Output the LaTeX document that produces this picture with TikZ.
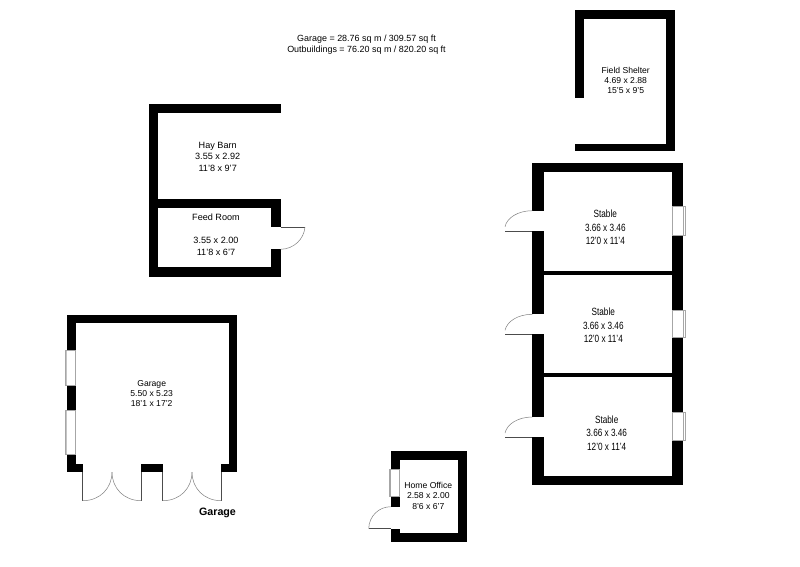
\documentclass[tikz,border=0pt]{standalone}
\usepackage{fontspec}
\setmainfont{Liberation Sans}
\begin{document}
\begin{tikzpicture}[x=1pt,y=-1pt]
    \tikzset{
        wall/.style = {fill=black, draw=none},
        winpane/.style = {draw=black!35, fill=white, line width=0.6pt},
        leaf/.style = {draw=black!70, line width=0.9pt},
        swing/.style = {draw=black!50, line width=0.5pt},
        room/.style = {align=center, font=\fontsize{8.6}{10.3}\selectfont, inner sep=0pt},
        barnroom/.style = {align=center, font=\fontsize{9.1}{11.7}\selectfont, inner sep=0pt},
        stableroom/.style = {align=center, font=\fontsize{8.2}{10.6}\selectfont, inner sep=0pt, yscale=1.28, transform shape},
        caption/.style = {font=\fontsize{10.7}{12}\selectfont\bfseries, inner sep=0pt}
    }
    \useasboundingbox (0,0) rectangle (800,566);
    \fill[white] (0,0) rectangle (800,566);

    % areas
    \node[room, font=\fontsize{8.95}{11}\selectfont] (areas) at (366.5,44.5) {Garage = 28.76 sq m / 309.57 sq ft \\ Outbuildings = 76.20 sq m / 820.20 sq ft};

    % field shelter
    \fill[wall] (574.7,10.3) rectangle (675,18.7);
    \fill[wall] (574.7,10.3) rectangle (583.7,98.3);
    \fill[wall] (666,10.3) rectangle (675,151.3);
    \fill[wall] (574.7,143.7) rectangle (675,151.3);
    \node[room] (shelter) at (625.7,80.5) {Field Shelter \\ 4.69 x 2.88 \\ 15'5 x 9'5};

    % hay barn and feed room
    \fill[wall] (149,104) rectangle (280.7,113.3);
    \fill[wall] (149,104) rectangle (158.3,276.7);
    \fill[wall] (149,199.3) rectangle (280.7,208.3);
    \fill[wall] (271.3,199.3) rectangle (280.7,227);
    \fill[wall] (271.3,249.3) rectangle (280.7,276.7);
    \fill[wall] (149,267.3) rectangle (280.7,276.7);
    \coordinate (feedjamb) at (280.7,227);
    \coordinate (feedopen) at (305,227);
    \coordinate (feedend) at (280.7,249.3);
    \draw[leaf] (feedjamb) -- (feedopen);
    \draw[swing] (feedopen) .. controls (304,239) and (294,249) .. (feedend);
    \node[barnroom] (haybarn) at (217.7,156.7) {Hay Barn \\ 3.55 x 2.92 \\ 11'8 x 9'7};
    \node[barnroom] (feedroom) at (216,217) {Feed Room};
    \node[barnroom] (feedsize) at (216,246.5) {3.55 x 2.00 \\ 11'8 x 6'7};

    % garage
    \fill[wall] (66.7,314.7) rectangle (237,323);
    \fill[wall] (66.7,314.7) rectangle (75.7,472);
    \fill[wall] (229,314.7) rectangle (237,472);
    \fill[wall] (66.7,464) rectangle (82.7,472);
    \fill[wall] (141.3,464) rectangle (162.7,472);
    \fill[wall] (221.3,464) rectangle (237,472);
    \draw[winpane] (65,350.7) rectangle (75.7,385);
    \draw[winpane] (65,410) rectangle (75.7,454);
    \fill[black!35] (65,350.7) rectangle (66.7,385) (65,410) rectangle (66.7,454);
    \foreach \jamb/\meet in {82.7/112, 141.3/112, 162.7/192, 221.3/192} {
        \draw[leaf] (\jamb,472) -- (\jamb,500.7);
        \draw[swing] (\jamb,500.7) .. controls ({\jamb+(\meet-\jamb)*0.6},500.7) and (\meet,488) .. (\meet,472);
    }
    \node[room] (garage) at (151.7,393.7) {Garage \\ 5.50 x 5.23 \\ 18'1 x 17'2};
    \node[caption] (garagecaption) at (217.5,512.5) {Garage};

    % stables
    \fill[wall] (532.3,163.3) rectangle (683.3,171.7);
    \fill[wall] (532.3,476.3) rectangle (683.3,484.7);
    \fill[wall] (672,163.3) rectangle (683.3,484.7);
    \fill[wall] (532.3,163.3) rectangle (543.7,484.7);
    \fill[wall] (532.3,270.7) rectangle (683.3,274.7);
    \fill[wall] (532.3,373.3) rectangle (683.3,377.3);
    \foreach \doortop/\doorend/\wintop/\winend in {210.7/231/206.7/235, 314.3/334/310/337.3, 417/437/412.7/440.7} {
        \fill[white] (532,\doortop) rectangle (544,\doorend);
        \draw[winpane] (672,\wintop) rectangle (683.3,\winend);
        \draw[winpane] (683.3,\wintop) rectangle (685.3,\winend);
        \draw[leaf] (532.3,\doorend) -- (505,\doorend);
        \draw[swing] (532.3,\doortop) .. controls (518,\doortop) and (507,{\doortop+7}) .. (505,{\doortop+16});
    }
    \node[stableroom] (stableone) at (605.3,227.3) {Stable \\ 3.66 x 3.46 \\ 12'0 x 11'4};
    \node[stableroom] (stabletwo) at (603.3,325.5) {Stable \\ 3.66 x 3.46 \\ 12'0 x 11'4};
    \node[stableroom] (stablethree) at (606.7,433) {Stable \\ 3.66 x 3.46 \\ 12'0 x 11'4};

    % home office
    \fill[wall] (390.7,450.7) rectangle (467.3,459.7);
    \fill[wall] (390.7,533.3) rectangle (467.3,541.7);
    \fill[wall] (458.3,450.7) rectangle (467.3,541.7);
    \fill[wall] (390.7,450.7) rectangle (399.7,506.7);
    \fill[wall] (390.7,528.7) rectangle (399.7,541.7);
    \draw[winpane] (389,469.3) rectangle (399.7,496);
    \fill[black!35] (389,469.3) rectangle (390.7,496);
    \coordinate (officejamb) at (390.7,528.7);
    \coordinate (officeopen) at (368.7,528.7);
    \coordinate (officetop) at (390.7,506.7);
    \draw[leaf] (officejamb) -- (officeopen);
    \draw[swing] (officetop) .. controls (379,506.7) and (369,516) .. (officeopen);
    \node[room] (office) at (428.3,495.7) {Home Office \\ 2.58 x 2.00 \\ 8'6 x 6'7};
\end{tikzpicture}
\end{document}
